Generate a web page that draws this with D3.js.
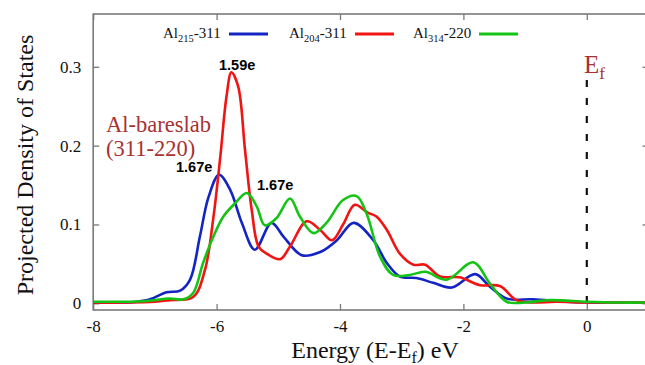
<!DOCTYPE html>
<html>
<head>
<meta charset="utf-8">
<script src="https://cdn.jsdelivr.net/npm/d3@7"></script>
<style>
  body { margin: 0; background: #fff; }
  svg text { font-family: "Liberation Serif", "DejaVu Serif", serif; }
</style>
</head>
<body>
<div id="chart"></div>
<script>
// projected DOS for three Al sites

var blueE = [-8, -7.5, -7.29, -7.08, -6.81, -6.59, -6.43, -6.27, -6.13, -5.96, -5.78, -5.59, -5.38, -5.11, -4.92, -4.62, -4.32, -4.05, -3.78, -3.46, -3.24, -3.03, -2.76, -2.49, -2.19, -1.81, -1.57, -1.30, -0.87, -0.35, 0, 0.5, 1];
var blueDos = [0.001, 0.001, 0.002, 0.005, 0.014, 0.016, 0.030, 0.085, 0.135, 0.163, 0.144, 0.102, 0.068, 0.102, 0.085, 0.061, 0.065, 0.080, 0.102, 0.080, 0.051, 0.034, 0.032, 0.026, 0.020, 0.037, 0.021, 0.006, 0.005, 0.002, 0.001, 0.001, 0.001];

var redE = [-8, -7.5, -7.0, -6.76, -6.38, -6.19, -6.05, -5.94, -5.84, -5.76, -5.65, -5.54, -5.43, -5.32, -5.19, -4.97, -4.81, -4.54, -4.32, -4.13, -3.95, -3.76, -3.55, -3.41, -3.24, -3.03, -2.81, -2.62, -2.38, -2.06, -1.73, -1.41, -1.14, -0.87, -0.5, 0, 0.5, 1];
var redDos = [0.001, 0.001, 0.002, 0.004, 0.008, 0.042, 0.110, 0.186, 0.262, 0.293, 0.275, 0.195, 0.118, 0.072, 0.063, 0.056, 0.072, 0.104, 0.093, 0.080, 0.100, 0.125, 0.115, 0.110, 0.093, 0.063, 0.049, 0.049, 0.034, 0.033, 0.023, 0.022, 0.004, 0.001, 0.002, 0.001, 0.001, 0.001];

var greenE = [-8, -7.5, -7.13, -6.76, -6.54, -6.38, -6.22, -6.05, -5.89, -5.70, -5.51, -5.35, -5.22, -5.03, -4.81, -4.65, -4.43, -4.22, -3.95, -3.73, -3.57, -3.35, -3.14, -2.87, -2.62, -2.27, -1.84, -1.57, -1.30, -1.0, -0.60, 0, 0.5, 1];
var greenDos = [0.002, 0.002, 0.003, 0.006, 0.005, 0.013, 0.051, 0.085, 0.110, 0.127, 0.140, 0.123, 0.099, 0.108, 0.133, 0.110, 0.089, 0.102, 0.131, 0.136, 0.114, 0.059, 0.036, 0.036, 0.040, 0.030, 0.052, 0.025, 0.002, 0.001, 0.004, 0.002, 0.001, 0.001];

var seriesNames = [['Al', '215', '-311'], ['Al', '204', '-311'], ['Al', '314', '-220']];
var seriesColors = ['#1424c4', '#f01414', '#14c314'];

var xTicks = [-8, -6, -4, -2, 0];
var xTickLabels = ['-8', '-6', '-4', '-2', '0'];
var yTicks = [0, 0.1, 0.2, 0.3];
var yTickLabels = ['0', '0.1', '0.2', '0.3'];

var chart_width = 645;
var chart_height = 365;
var svg = d3.select('#chart').append('svg')
  .attr('width', chart_width)
  .attr('height', chart_height);

var x_scale = d3.scaleLinear().domain([-8, 1]).range([93.2, 648.5]);
var y_scale = d3.scaleLinear().domain([-0.0085, 0.367]).range([310, 14]);

// frame + ticks (gnuplot style, inward)
var frameColor = '#7a7a7a';
svg.append('rect')
  .attr('x', x_scale(-8)).attr('y', y_scale(0.367))
  .attr('width', x_scale(1) - x_scale(-8))
  .attr('height', y_scale(-0.0085) - y_scale(0.367))
  .attr('fill', 'none').attr('stroke', frameColor).attr('stroke-width', 1.6);

var xBottom = d3.axisBottom(x_scale).tickValues(xTicks).tickSizeInner(-6).tickSizeOuter(0).tickPadding(10)
  .tickFormat(function(d, i) { return xTickLabels[i]; });
var gx = svg.append('g').attr('transform', 'translate(0,310)').call(xBottom);
var gxTop = svg.append('g').attr('transform', 'translate(0,14)')
  .call(d3.axisTop(x_scale).tickValues(xTicks).tickSizeInner(-6).tickSizeOuter(0).tickFormat(''));
var gy = svg.append('g').attr('transform', 'translate(93.2,0)')
  .call(d3.axisLeft(y_scale).tickValues(yTicks).tickSizeInner(-6).tickSizeOuter(0).tickPadding(12)
    .tickFormat(function(d, i) { return yTickLabels[i]; }));
var gyRight = svg.append('g').attr('transform', 'translate(648.5,0)')
  .call(d3.axisRight(y_scale).tickValues(yTicks).tickSizeInner(-6).tickSizeOuter(0).tickFormat(''));

[gx, gxTop, gy, gyRight].forEach(function(g) {
  g.select('.domain').remove();
  g.selectAll('line').attr('stroke', frameColor).attr('stroke-width', 1.3);
  g.selectAll('text').attr('fill', '#111').style('font-size', '17px')
    .style('font-family', '"Liberation Serif", serif');
});

// Fermi level
svg.append('line')
  .attr('x1', x_scale(0)).attr('x2', x_scale(0))
  .attr('y1', 80).attr('y2', y_scale(0))
  .attr('stroke', '#111').attr('stroke-width', 2.2)
  .attr('stroke-dasharray', '7,11');

// curves
var line = d3.line()
  .x(function(d) { return x_scale(d[0]); })
  .y(function(d) { return y_scale(d[1]); })
  .curve(d3.curveCatmullRom.alpha(0.5));

var allSeries = [
  d3.zip(blueE, blueDos),
  d3.zip(redE, redDos),
  d3.zip(greenE, greenDos)
];

svg.selectAll('path.dos')
  .data(allSeries)
  .enter()
  .append('path')
  .attr('class', 'dos')
  .attr('d', line)
  .attr('fill', 'none')
  .attr('stroke', function(d, i) { return seriesColors[i]; })
  .attr('stroke-width', 2.6)
  .attr('stroke-linejoin', 'round');

// legend
var legendX = [163, 289, 413];
seriesNames.forEach(function(n, i) {
  var t = svg.append('text').attr('x', legendX[i]).attr('y', 38)
    .style('font-size', '15px').attr('fill', '#111');
  t.append('tspan').text(n[0]);
  t.append('tspan').attr('dy', 4).style('font-size', '10.5px').text(n[1]);
  t.append('tspan').attr('dy', -4).text(n[2]);
  svg.append('line')
    .attr('x1', legendX[i] + 66).attr('x2', legendX[i] + 105)
    .attr('y1', 34).attr('y2', 34)
    .attr('stroke', seriesColors[i]).attr('stroke-width', 3);
});

// annotations
var ann = [['1.59e', 219, 70], ['1.67e', 176, 172], ['1.67e', 257, 190]];
ann.forEach(function(a) {
  svg.append('text').attr('x', a[1]).attr('y', a[2]).text(a[0])
    .style('font-family', '"Liberation Sans", Arial, sans-serif')
    .style('font-weight', 'bold').style('font-size', '14.5px').attr('fill', '#000');
});

var brown = '#a83232';
svg.append('text').attr('x', 106).attr('y', 132).text('Al-bareslab')
  .style('font-size', '22.5px').attr('fill', brown);
svg.append('text').attr('x', 106).attr('y', 156).text('(311-220)')
  .style('font-size', '22.5px').attr('fill', brown);

var ef = svg.append('text').attr('x', 584).attr('y', 73).style('font-size', '25px').attr('fill', brown);
ef.append('tspan').text('E');
ef.append('tspan').attr('dy', 6).style('font-size', '17px').text('f');

// axis titles
var xt = svg.append('text').attr('x', 375).attr('y', 358).attr('text-anchor', 'middle')
  .style('font-size', '24px').attr('fill', '#111');
xt.append('tspan').text('Energy (E-E');
xt.append('tspan').attr('dy', 5).style('font-size', '16px').text('f');
xt.append('tspan').attr('dy', -5).text(') eV');

svg.append('text')
  .attr('transform', 'translate(33,165) rotate(-90)')
  .attr('text-anchor', 'middle')
  .style('font-size', '24px').attr('fill', '#111')
  .text('Projected Density of States');
</script>
</body>
</html>
